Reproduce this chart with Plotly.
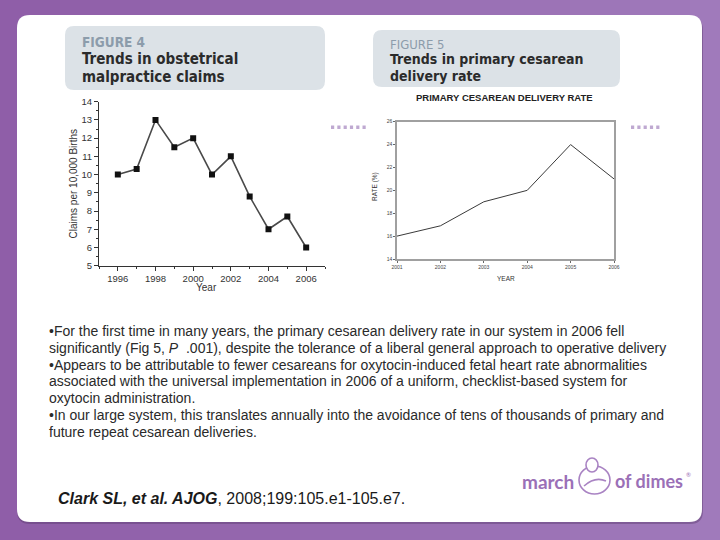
import plotly.graph_objects as go

W, H = 720, 540

def px(x):
    return x / W

def py(y):
    return 1 - y / H

# ---------------- data ----------------
claims_years = [1996, 1997, 1998, 1999, 2000, 2001, 2002, 2003, 2004, 2005, 2006]
claims_rate = [10.0, 10.3, 13.0, 11.5, 12.0, 10.0, 11.0, 8.8, 7.0, 7.7, 6.0]
claims_xticks = [1996, 1998, 2000, 2002, 2004, 2006]

ces_years = [2001, 2002, 2003, 2004, 2005, 2006]
ces_rate = [16.0, 16.9, 19.0, 20.0, 24.0, 21.0]
ces_xticks = [2001, 2002, 2003, 2004, 2005, 2006]
ces_yticks = [14, 16, 18, 20, 22, 24, 26]

body_lines = [
    "\u2022For the first time in many years, the primary cesarean delivery rate in our system in 2006 fell",
    "significantly (Fig 5, <i>P</i>\u00a0 .001), despite the tolerance of a liberal general approach to operative delivery",
    "\u2022Appears to be attributable to fewer cesareans for oxytocin-induced fetal heart rate abnormalities",
    "associated with the universal implementation in 2006 of a uniform, checklist-based system for",
    "oxytocin administration.",
    "\u2022In our large system, this translates annually into the avoidance of tens of thousands of primary and",
    "future repeat cesarean deliveries.",
]
citation = "<b><i>Clark SL, et al. AJOG</i></b>, 2008;199:105.e1-105.e7."

# ---------------- figure ----------------
fig = go.Figure()
fig.add_trace(go.Scatter(
    x=claims_years, y=claims_rate, mode="lines+markers", xaxis="x", yaxis="y",
    line=dict(color="#4a4a4a", width=1.6),
    marker=dict(symbol="square", size=6, color="#111111"),
    showlegend=False, hoverinfo="skip"))
fig.add_trace(go.Scatter(
    x=ces_years, y=ces_rate, mode="lines", xaxis="x2", yaxis="y2",
    line=dict(color="#3a3a3a", width=1),
    showlegend=False, hoverinfo="skip"))

shapes = []
# purple background gradient strips
n = 24
c0 = (0x8f, 0x5e, 0xa8)
c1 = (0xa0, 0x7a, 0xbb)
for i in range(n):
    t = i / (n - 1)
    c = tuple(int(c0[k] + (c1[k] - c0[k]) * t) for k in range(3))
    shapes.append(dict(type="rect", xref="paper", yref="paper",
                       x0=i / n, x1=(i + 1) / n + 0.002, y0=0, y1=1,
                       fillcolor="rgb(%d,%d,%d)" % c, line=dict(width=0), layer="below"))


def rrect(x0, y0, x1, y1, r, fill):
    rx, ry = r / W, r / H
    X0, X1 = px(x0), px(x1)
    Y0, Y1 = py(y1), py(y0)  # bottom, top in paper
    path = (f"M {X0+rx},{Y1} L {X1-rx},{Y1} Q {X1},{Y1} {X1},{Y1-ry} "
            f"L {X1},{Y0+ry} Q {X1},{Y0} {X1-rx},{Y0} L {X0+rx},{Y0} "
            f"Q {X0},{Y0} {X0},{Y0+ry} L {X0},{Y1-ry} Q {X0},{Y1} {X0+rx},{Y1} Z")
    return dict(type="path", xref="paper", yref="paper", path=path,
                fillcolor=fill, line=dict(width=0), layer="below")

# shadow + white panel
shapes.append(rrect(17, 17, 703, 524, 13, "rgba(90,60,110,0.45)"))
shapes.append(rrect(17, 15, 702, 522, 13, "#ffffff"))
# header boxes
shapes.append(rrect(65, 26, 325, 90, 9, "#dce2e7"))
shapes.append(rrect(373, 30, 620, 87, 9, "#dce2e7"))

# dotted decorations
for i in range(6):
    x = 331 + i * 6.3
    shapes.append(dict(type="rect", xref="paper", yref="paper",
                       x0=px(x), x1=px(x + 3.2), y0=py(129), y1=py(125.5),
                       fillcolor="#bfa9d1", line=dict(width=0), layer="below"))
for i in range(5):
    x = 631 + i * 6.3
    shapes.append(dict(type="rect", xref="paper", yref="paper",
                       x0=px(x), x1=px(x + 3.2), y0=py(129), y1=py(125.5),
                       fillcolor="#bfa9d1", line=dict(width=0), layer="below"))

# logo icon
shapes.append(dict(type="circle", xref="paper", yref="paper",
                   x0=px(579), x1=px(610), y0=py(494), y1=py(466),
                   line=dict(color="#a983c3", width=1.6), fillcolor="rgba(0,0,0,0)"))
shapes.append(dict(type="circle", xref="paper", yref="paper",
                   x0=px(586), x1=px(598), y0=py(472), y1=py(458),
                   line=dict(color="#a983c3", width=1.6), fillcolor="#ffffff"))
shapes.append(dict(type="path", xref="paper", yref="paper",
                   path=f"M {px(584)},{py(486)} Q {px(595)},{py(476)} {px(606)},{py(481)}",
                   line=dict(color="#a983c3", width=1.6)))

ann = []
hfont = "Liberation Sans Narrow, DejaVu Sans Condensed, Arial Narrow, sans-serif"
ann.append(dict(text="<b>FIGURE 4</b>", x=px(80), y=py(42), xanchor="left", yanchor="middle",
                font=dict(family=hfont, size=13.5, color="#8c9cab")))
ann.append(dict(text="<b>Trends in obstetrical</b>", x=px(80), y=py(59), xanchor="left", yanchor="middle",
                font=dict(family=hfont, size=15, color="#2b2b2b")))
ann.append(dict(text="<b>malpractice claims</b>", x=px(80), y=py(77.5), xanchor="left", yanchor="middle",
                font=dict(family=hfont, size=15, color="#2b2b2b")))
ann.append(dict(text="FIGURE 5", x=px(388), y=py(44.5), xanchor="left", yanchor="middle",
                font=dict(family=hfont, size=13, color="#8c9cab")))
ann.append(dict(text="<b>Trends in primary cesarean</b>", x=px(388), y=py(59), xanchor="left", yanchor="middle",
                font=dict(family=hfont, size=14, color="#2b2b2b")))
ann.append(dict(text="<b>delivery rate</b>", x=px(388), y=py(76), xanchor="left", yanchor="middle",
                font=dict(family=hfont, size=14, color="#2b2b2b")))

# chart titles
ann.append(dict(text="Claims per 10,000 Births", x=px(73), y=py(183.5), textangle=-90,
                xanchor="center", yanchor="middle",
                font=dict(family="Liberation Sans, Arial", size=10, color="#333")))
ann.append(dict(text="Year", x=px(207), y=py(287), xanchor="center", yanchor="middle",
                font=dict(family="Liberation Sans, Arial", size=10, color="#333")))
ann.append(dict(text="<b>PRIMARY CESAREAN DELIVERY RATE</b>", x=px(505), y=py(98),
                xanchor="center", yanchor="middle",
                font=dict(family="Liberation Sans, Arial", size=9.5, color="#222")))
ann.append(dict(text="YEAR", x=px(506), y=py(278), xanchor="center", yanchor="middle",
                font=dict(family="Liberation Sans, Arial", size=6.5, color="#333")))
ann.append(dict(text="RATE (%)", x=px(375), y=py(187), textangle=-90, xanchor="center", yanchor="middle",
                font=dict(family="Liberation Sans, Arial", size=6.5, color="#333")))

# body text
for i, line in enumerate(body_lines):
    ann.append(dict(text=line, x=px(47), y=py(331 + i * 16.8), xanchor="left", yanchor="middle",
                    font=dict(family="Liberation Sans, Arial", size=14, color="#2a2a2a")))
ann.append(dict(text=citation, x=px(56), y=py(498), xanchor="left", yanchor="middle",
                font=dict(family="Liberation Sans, Arial", size=16, color="#1a1a1a")))

# logo text
ann.append(dict(text="<b>march</b>", x=px(576), y=py(481), xanchor="right", yanchor="middle",
                font=dict(family="Lato, Open Sans, sans-serif", size=19, color="#9b70b7")))
ann.append(dict(text="<b>of dimes</b>", x=px(613), y=py(481), xanchor="left", yanchor="middle",
                font=dict(family="Lato, Open Sans, sans-serif", size=18, color="#9b70b7")))
ann.append(dict(text="\u00ae", x=px(684), y=py(474), xanchor="left", yanchor="middle",
                font=dict(family="Lato, sans-serif", size=6, color="#9b70b7")))

for a in ann:
    a.update(xref="paper", yref="paper", showarrow=False)

axfont = dict(family="Liberation Sans, Arial", size=9.5, color="#333")
smfont = dict(family="Liberation Sans, Arial", size=5, color="#444")

fig.update_layout(
    template="none",
    width=W, height=H, autosize=False,
    margin=dict(l=0, r=0, t=0, b=0, pad=0, autoexpand=False),
    paper_bgcolor="#9567ae", plot_bgcolor="rgba(0,0,0,0)",
    shapes=shapes, annotations=ann, showlegend=False,
    xaxis=dict(domain=[px(99), px(325)], range=[1995, 2007], anchor="y", automargin=False,
               showline=True, linecolor="#333", linewidth=1, showgrid=False, zeroline=False,
               ticks="outside", ticklen=4, tickcolor="#333", tickvals=claims_xticks,
               minor=dict(dtick=1, ticks="outside", ticklen=2.5, tickcolor="#333"),
               tickfont=axfont, fixedrange=True),
    yaxis=dict(domain=[py(265.7), py(101.7)], range=[5, 14], anchor="x", automargin=False,
               showline=True, linecolor="#333", linewidth=1, showgrid=False, zeroline=False,
               ticks="outside", ticklen=4, tickcolor="#333", dtick=1,
               minor=dict(dtick=0.5, ticks="outside", ticklen=2.5, tickcolor="#333"),
               tickfont=axfont, fixedrange=True),
    xaxis2=dict(domain=[px(397), px(614)], range=[2001, 2006], anchor="y2", automargin=False,
                showline=True, linecolor="#a0a0a0", linewidth=1.5, mirror=True,
                showgrid=False, zeroline=False, ticks="outside", ticklen=2, tickcolor="#666",
                tickvals=ces_xticks, tickfont=smfont, fixedrange=True),
    yaxis2=dict(domain=[py(259), py(121.7)], range=[14, 26], anchor="x2", automargin=False,
                showline=True, linecolor="#a0a0a0", linewidth=1.5, mirror=True,
                showgrid=False, zeroline=False, ticks="outside", ticklen=2, tickcolor="#666",
                tickvals=ces_yticks, tickfont=smfont, fixedrange=True),
)

fig.write_html("out.html", config={"displayModeBar": False},
               post_script="document.body.style.margin='0px';")
